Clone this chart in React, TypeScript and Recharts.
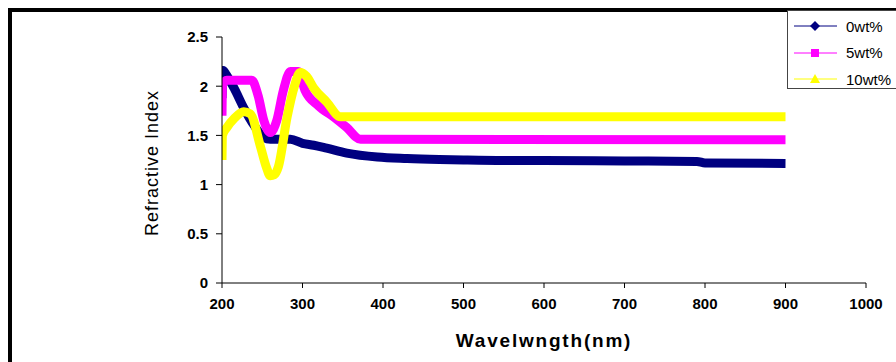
import { LineChart, Line, XAxis, YAxis } from "recharts"

// wavelength (nm) / refractive index
const wl0 = [200, 200.6, 201.5, 205, 215, 227, 240, 252, 260, 268, 285, 300, 314, 330, 355, 393, 430, 470, 500, 550, 600, 700, 790, 800, 900]
const n0 = [1.88, 2.05, 2.16, 2.12, 1.98, 1.78, 1.6, 1.48, 1.46, 1.46, 1.46, 1.42, 1.4, 1.37, 1.32, 1.28, 1.265, 1.255, 1.25, 1.245, 1.245, 1.24, 1.235, 1.22, 1.215]

const wl5 = [200, 200.6, 201.5, 206, 237, 245, 252, 260, 268, 276, 285, 295, 303, 320, 340, 355, 372, 900]
const n5 = [1.7, 2.0, 2.03, 2.06, 2.06, 1.9, 1.65, 1.53, 1.65, 1.95, 2.15, 2.15, 1.96, 1.8, 1.68, 1.58, 1.46, 1.455]

const wl10 = [200, 200.6, 206, 215, 227, 235, 248, 255, 260, 265, 270, 281, 290, 297, 305, 314, 330, 347, 355, 900]
const n10 = [1.25, 1.5, 1.58, 1.67, 1.74, 1.72, 1.38, 1.18, 1.09, 1.1, 1.18, 1.69, 2.0, 2.14, 2.1, 1.98, 1.84, 1.69, 1.69, 1.69]

const xTicks = [200, 300, 400, 500, 600, 700, 800, 900, 1000]
const yTicks = [0, 0.5, 1, 1.5, 2, 2.5]

const series = [
  { name: "0wt%", color: "#000080", wl: wl0, n: n0, marker: "diamond" },
  { name: "5wt%", color: "#FF00FF", wl: wl5, n: n5, marker: "square" },
  { name: "10wt%", color: "#FFFF00", wl: wl10, n: n10, marker: "triangle" },
]

const toRows = (wl: number[], n: number[]) => wl.map((w, i) => ({ x: w, y: n[i] }))

const font = "'Liberation Sans', Arial, sans-serif"

function Marker({ type, color }: { type: string; color: string }) {
  if (type === "diamond") return <polygon points="20,1 25,6 20,11 15,6" fill={color} />
  if (type === "square") return <rect x={16} y={2} width={8} height={8} fill={color} />
  return <polygon points="20,1 25,10 15,10" fill={color} />
}

function LegendBox() {
  return (
    <div style={{
      position: "absolute", left: 787, top: 10, width: 120, height: 79,
      border: "1px solid #444", background: "#fff",
      fontFamily: font, fontSize: 15, color: "#000", boxSizing: "border-box",
    }}>
      {series.map((s, i) => (
        <div key={s.name} style={{ position: "absolute", top: 6 + i * 26.5, left: 0, display: "flex", alignItems: "center", height: 18 }}>
          <svg width={50} height={12} style={{ marginLeft: 5 }}>
            <line x1={1} x2={44} y1={6} y2={6} stroke={s.color} strokeWidth={1} />
            <g transform="translate(2,0)"><Marker type={s.marker} color={s.color} /></g>
          </svg>
          <span style={{ marginLeft: 3 }}>{s.name}</span>
        </div>
      ))}
    </div>
  )
}

export default function App() {
  return (
    <div style={{ position: "fixed", left: 0, top: 0, width: 896, height: 362, overflow: "hidden", background: "#fff" }}>
      <div style={{
        position: "absolute", left: 8, top: 8, width: 940, height: 420,
        border: "4px solid #000", boxSizing: "border-box",
      }} />
      <div style={{ position: "absolute", left: 0, top: 0 }}>
        <LineChart width={896} height={362} margin={{ top: 37, right: 30, bottom: 0, left: 0 }}>
          <XAxis
            type="number"
            dataKey="x"
            domain={[200, 1000]}
            ticks={xTicks}
            allowDataOverflow
            height={79}
            tickSize={5}
            tickMargin={10}
            stroke="#000"
            tick={{ fill: "#000", fontSize: 15, fontWeight: "bold", fontFamily: font }}
            label={{ value: "Wavelwngth(nm)", position: "insideBottom", offset: 15, fill: "#000", fontSize: 19, fontWeight: "bold", letterSpacing: 1.8, fontFamily: font }}
          />
          <YAxis
            type="number"
            domain={[0, 2.5]}
            ticks={yTicks}
            allowDataOverflow
            width={222}
            tickSize={6}
            tickMargin={8}
            stroke="#000"
            tick={{ fill: "#000", fontSize: 15, fontWeight: "bold", fontFamily: font }}
            label={{ value: "Refractive Index", angle: -90, position: "center", dx: 41, dy: 3, fill: "#000", fontSize: 18, letterSpacing: 1, fontFamily: font }}
          />
          {series.map(s => (
            <Line
              key={s.name}
              data={toRows(s.wl, s.n)}
              dataKey="y"
              name={s.name}
              type="monotone"
              stroke={s.color}
              strokeWidth={9}
              strokeLinejoin="round"
              dot={false}
              activeDot={false}
              isAnimationActive={false}
            />
          ))}
        </LineChart>
      </div>
      <LegendBox />
    </div>
  )
}
